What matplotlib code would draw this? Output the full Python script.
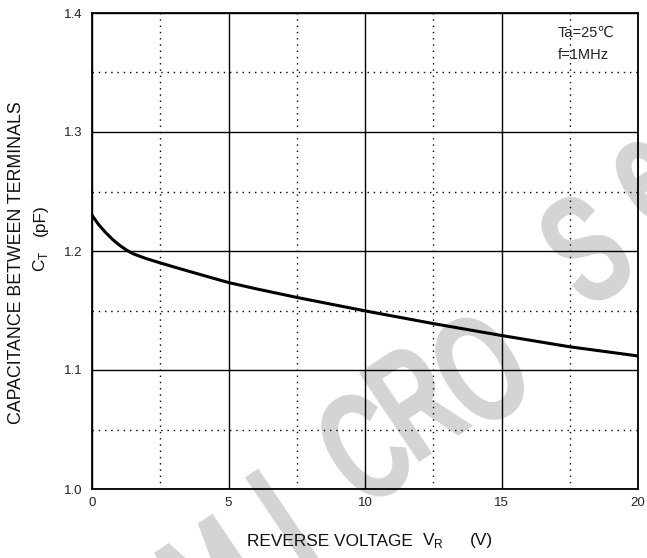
import matplotlib.pyplot as plt
from matplotlib.textpath import TextPath
from matplotlib.patches import PathPatch
from matplotlib.font_manager import FontProperties
from matplotlib.transforms import Affine2D, IdentityTransform
import numpy as np

# ================== data ==================
vr = [0, 0.25, 0.5, 0.75, 1.0, 1.25, 1.5, 2.0, 2.5, 3.0, 4.0, 5.0, 6.0, 7.5, 10.0, 12.5, 15.0, 17.5, 20.0]
ct = [1.230, 1.222, 1.2155, 1.2098, 1.205, 1.201, 1.1977, 1.1935, 1.190, 1.1866, 1.180, 1.1735,
      1.1683, 1.161, 1.1497, 1.139, 1.129, 1.1195, 1.1118]

x_ticks = [0, 5, 10, 15, 20]
y_ticks = [1.0, 1.1, 1.2, 1.3, 1.4]
y_tick_labels = ['1.0', '1.1', '1.2', '1.3', '1.4']

# watermark letters and their centres (figure pixels from top-left)
wm_letters = ['M', 'I', 'C', 'R', 'O', 'S', 'e']
wm_px = [(210, 580), (278, 520), (362, 448), (412, 402), (478, 370), (583, 250), (648, 183)]

plt.rcParams['font.family'] = ['Liberation Sans', 'DejaVu Sans']

W, H = 647, 558
fig = plt.figure(figsize=(W/100, H/100), dpi=100)
ax = fig.add_axes([92/W, 1 - 489/H, (638-92)/W, (489-13)/H])

# watermark: condensed, rotated letters drawn under the grid
fp = FontProperties(family='Liberation Sans')
for ch, (px, py) in zip(wm_letters, wm_px):
    tp = TextPath((0, 0), ch, size=146, prop=fp)
    v = tp.vertices
    cx = (v[:, 0].min() + v[:, 0].max()) / 2
    cy = (v[:, 1].min() + v[:, 1].max()) / 2
    tr = (Affine2D().translate(-cx, -cy).scale(0.65, 1.0).rotate_deg(34)
          .translate(px, H - py))
    patch = PathPatch(tr.transform_path(tp), facecolor='#d4d4d4', edgecolor='#d4d4d4',
                      linewidth=5, transform=IdentityTransform(), zorder=0)
    patch.set_clip_on(False)
    ax.add_artist(patch)
ax.set_facecolor('none')

ax.plot(vr, ct, color='black', linewidth=2.2, zorder=3)

ax.set_xlim(0, 20)
ax.set_ylim(1.0, 1.4)
ax.set_xticks(x_ticks)
ax.set_yticks(y_ticks)
ax.set_yticklabels(y_tick_labels)
ax.set_xticks([2.5, 7.5, 12.5, 17.5], minor=True)
ax.set_yticks([1.05, 1.15, 1.25, 1.35], minor=True)
ax.grid(True, which='major', color='black', linewidth=1.0)
ax.grid(True, which='minor', color='black', linewidth=1.0, linestyle=(0, (1, 3.5)))
ax.tick_params(which='both', length=0, labelsize=9.5, colors='#222222')
ax.tick_params(axis='y', pad=7)
ax.tick_params(axis='x', pad=6)
for s in ax.spines.values():
    s.set_linewidth(1.3)
    s.set_zorder(4)

fig.text(614/W, 1 - 33/H, 'Ta=25\u2103', fontsize=10.5, ha='right', va='center', color='#222222')
fig.text(609/W, 1 - 55/H, 'f=1MHz', fontsize=10.5, ha='right', va='center', color='#222222')

fig.text(330/W, 1 - 541/H, 'REVERSE VOLTAGE', fontsize=12.4, ha='center', va='center', color='#111111')
fig.text(433/W, 1 - 541/H, 'V$_{\\mathregular{R}}$', fontsize=12.4, ha='center', va='center', color='#111111')
fig.text(481/W, 1 - 541/H, '(V)', fontsize=12.4, ha='center', va='center', color='#111111')

fig.text(17/W, 1 - 263/H, 'CAPACITANCE BETWEEN TERMINALS', fontsize=12.8,
         rotation=90, ha='center', va='center', color='#111111')
fig.text(40/W, 1 - 261/H, 'C$_{\\mathregular{T}}$', fontsize=12.4, rotation=90,
         ha='center', va='center', color='#111111')
fig.text(40/W, 1 - 220/H, '(pF)', fontsize=12.4, rotation=90, ha='center', va='center', color='#111111')

fig.savefig('out.png', dpi=100)
